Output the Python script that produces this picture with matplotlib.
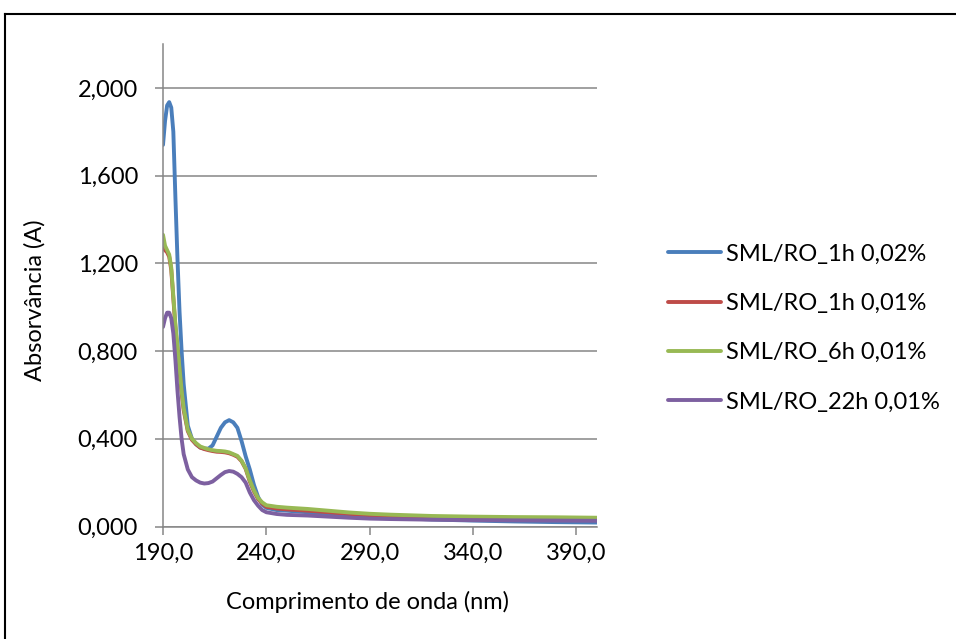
import matplotlib
matplotlib.use('Agg')
import matplotlib.pyplot as plt
from matplotlib.lines import Line2D
from matplotlib.ticker import FuncFormatter

plt.rcParams['font.family'] = ['Lato', 'DejaVu Sans']

# wavelength (nm)
wl = [190, 191, 192, 193, 194, 195, 196, 197, 198, 199, 200, 202, 204, 206, 208,
      210, 212, 214, 216, 218, 220, 222, 224, 226, 228, 230, 232, 234, 236, 238,
      240, 245, 250, 260, 270, 280, 290, 300, 320, 340, 360, 380, 400]

abs_1h_002 = [1.74, 1.85, 1.92, 1.935, 1.91, 1.80, 1.50, 1.22, 0.98, 0.80, 0.65, 0.46, 0.40, 0.375, 0.36,
              0.355, 0.355, 0.37, 0.41, 0.45, 0.475, 0.485, 0.475, 0.45, 0.39, 0.32, 0.26, 0.19, 0.135, 0.10,
              0.085, 0.075, 0.072, 0.065, 0.058, 0.050, 0.045, 0.040, 0.032, 0.027, 0.023, 0.020, 0.018]

abs_1h_001 = [1.27, 1.26, 1.25, 1.23, 1.17, 1.04, 0.91, 0.81, 0.71, 0.61, 0.53, 0.435, 0.395, 0.375, 0.36,
              0.353, 0.348, 0.344, 0.341, 0.340, 0.338, 0.334, 0.327, 0.318, 0.298, 0.263, 0.205, 0.16, 0.125, 0.105,
              0.09, 0.082, 0.078, 0.072, 0.065, 0.058, 0.052, 0.048, 0.042, 0.038, 0.036, 0.034, 0.033]

abs_6h_001 = [1.33, 1.28, 1.26, 1.24, 1.18, 1.05, 0.92, 0.82, 0.72, 0.62, 0.54, 0.44, 0.40, 0.38, 0.365,
              0.358, 0.352, 0.348, 0.345, 0.344, 0.342, 0.338, 0.33, 0.322, 0.30, 0.265, 0.21, 0.165, 0.13, 0.11,
              0.097, 0.09, 0.086, 0.08, 0.072, 0.064, 0.058, 0.054, 0.048, 0.045, 0.043, 0.042, 0.040]

abs_22h_001 = [0.91, 0.95, 0.975, 0.975, 0.95, 0.88, 0.76, 0.62, 0.50, 0.40, 0.33, 0.26, 0.225, 0.21, 0.20,
               0.196, 0.198, 0.205, 0.22, 0.235, 0.248, 0.253, 0.25, 0.24, 0.225, 0.20, 0.155, 0.12, 0.095, 0.075,
               0.065, 0.057, 0.053, 0.05, 0.045, 0.04, 0.036, 0.034, 0.031, 0.029, 0.028, 0.027, 0.026]

labels = ['SML/RO_1h 0,02%', 'SML/RO_1h 0,01%', 'SML/RO_6h 0,01%', 'SML/RO_22h 0,01%']
colors = ['#4A7EBB', '#BE4B48', '#98B954', '#7D60A0']
x_ticks = [190, 240, 290, 340, 390]
y_ticks = [0, 0.4, 0.8, 1.2, 1.6, 2.0]

W, H = 956, 639
fig = plt.figure(figsize=(W / 100, H / 100), dpi=100)
ax = fig.add_axes([163 / W, 1 - 526.5 / H, (597 - 163) / W, (526.5 - 44) / H])

for ys, lab, c in zip([abs_1h_002, abs_1h_001, abs_6h_001, abs_22h_001], labels, colors):
    ax.plot(wl, ys, color=c, lw=2.8, label=lab, solid_capstyle='round', solid_joinstyle='round')

gray = '#868686'
ax.set_xlim(190, 400)
ax.set_ylim(0, 2.2)
ax.set_xticks(x_ticks)
ax.set_yticks(y_ticks)
ax.xaxis.set_major_formatter(FuncFormatter(lambda v, p: f'{v:.1f}'.replace('.', ',')))
ax.yaxis.set_major_formatter(FuncFormatter(lambda v, p: f'{v:.3f}'.replace('.', ',')))
ax.grid(axis='y', color=gray, lw=1.1)
ax.set_axisbelow(True)
for s in ['top', 'right']:
    ax.spines[s].set_visible(False)
for s in ['left', 'bottom']:
    ax.spines[s].set_color(gray)
    ax.spines[s].set_linewidth(1.1)
ax.tick_params(axis='both', colors=gray, labelcolor='black', labelsize=17, width=1.1, length=6)
ax.tick_params(axis='y', pad=12)
ax.tick_params(axis='x', pad=6)

fig.text(367 / W, 1 - 602 / H, 'Comprimento de onda (nm)', ha='center', va='center', fontsize=17)
fig.text(35 / W, 1 - 300 / H, 'Absorvância (A)', ha='center', va='center', rotation=90, fontsize=17)

ax.legend(loc='center left', bbox_to_anchor=(668 / W, 1 - 328 / H), bbox_transform=fig.transFigure,
          frameon=False, fontsize=17, handlelength=2.25, handletextpad=0.2, labelspacing=1.2,
          borderpad=0, borderaxespad=0)

# outer frame (clipped at right and bottom in the reference)
fig.add_artist(Line2D([4.5 / W, 4.5 / W], [0, 1 - 13.5 / H], color='black', lw=1.5, transform=fig.transFigure))
fig.add_artist(Line2D([4.5 / W, 1], [1 - 13.5 / H, 1 - 13.5 / H], color='black', lw=1.5, transform=fig.transFigure))

fig.savefig('out.png', dpi=100)
